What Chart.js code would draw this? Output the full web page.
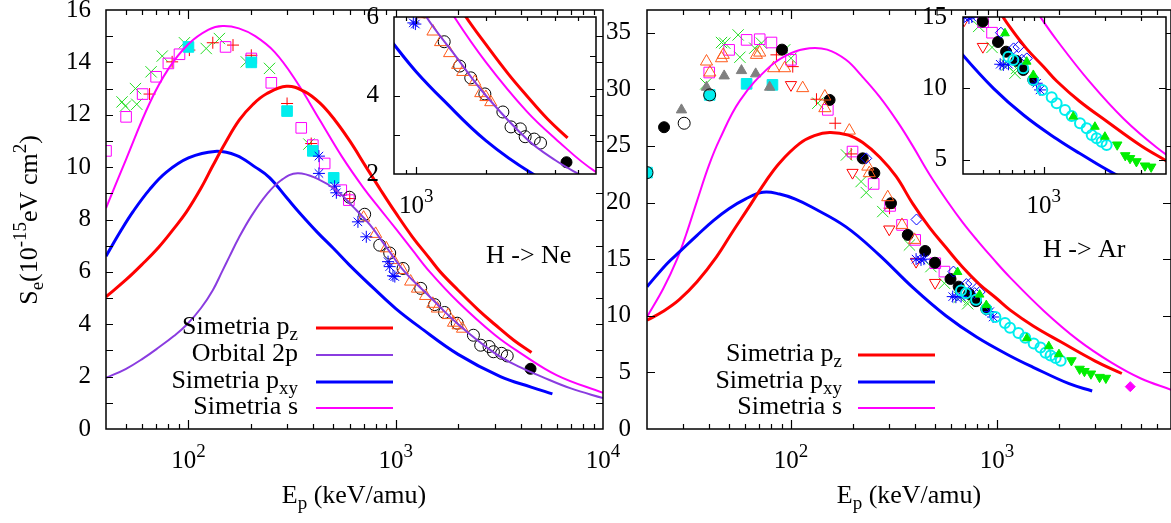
<!DOCTYPE html>
<html>
<head>
<title>Stopping cross sections H -> Ne, H -> Ar</title>
<script src="https://cdn.jsdelivr.net/npm/chart.js@4.4.1/dist/chart.umd.min.js"></script>
<style>
  body { margin: 0; background: #fff; overflow: hidden; }
  #wrap { position: relative; width: 1171px; height: 523px; overflow: hidden; background: #fff; }
  canvas { position: absolute; left: 0; top: 0; }
</style>
</head>
<body>
<div id="wrap">
  <canvas id="ne" width="1180" height="523"></canvas>
  <canvas id="ar" width="1180" height="523"></canvas>
  <canvas id="neInset" width="1180" height="523"></canvas>
  <canvas id="arInset" width="1180" height="523"></canvas>
</div>
<script>
const FONT = '"Liberation Serif", "Times New Roman", serif';

// ---- H -> Ne, theory curves: [E (keV/amu), Se (1e-15 eV cm2)]
const neSimS = [[40,8.43],[50,10.3],[65,12.45],[80,13.75],[100,14.7],[125,15.25],[146,15.39],[175,15.3],[210,15.0],[260,14.4],[330,13.3],[430,11.8],[550,10.4],[700,9.2],[850,8.35],[1000,7.65],[1200,6.85],[1460,6.0],[2000,4.85],[3000,3.6],[4000,2.9],[6000,2.05],[10000,1.38]];
const neSimPz = [[40,5.05],[50,5.7],[60,6.3],[72,6.95],[85,7.65],[98,8.3],[115,9.2],[131,10.05],[150,10.9],[176,11.8],[205,12.4],[238,12.8],[297,13.09],[360,12.9],[430,12.45],[508,11.8],[600,11.0],[720,10.0],[850,9.1],[1000,8.25],[1200,7.35],[1460,6.5],[1640,6.0],[2000,5.3],[2500,4.55],[3000,4.0],[3700,3.4],[4520,2.92]];
const neSimPxy = [[40,6.6],[47,7.55],[54,8.3],[65,9.15],[78,9.8],[100,10.35],[134,10.6],[170,10.45],[210,10.0],[246,9.6],[300,8.8],[344,8.25],[420,7.5],[500,6.9],[600,6.25],[800,5.3],[1000,4.6],[1300,3.9],[2000,2.85],[3200,2.0],[4500,1.6],[5700,1.34]];
const neOrb2p = [[40,1.95],[50,2.3],[60,2.68],[72,3.12],[85,3.55],[98,3.98],[115,4.62],[131,5.3],[145,6.0],[158,6.6],[175,7.3],[200,8.1],[238,8.95],[280,9.5],[336,9.77],[420,9.55],[520,9.1],[620,8.5],[750,7.8],[900,6.95],[1100,6.02],[1460,5.05],[2000,4.0],[3000,2.9],[4000,2.35],[5050,2.0],[7000,1.55],[10000,1.18]];

// ---- H -> Ne, measured points
const neCross = [[47.8,12.49],[49.6,12.33],[55.5,13.0],[56.3,12.4],[66,13.64],[74.7,14.24],[95.6,14.75],[121.8,14.53],[141,14.91],[190,14.02],[246,13.77],[381,10.88]];
const nePlus = [[64.9,12.79],[83.4,14.02],[101,14.47],[131,14.75],[164,14.66],[201,14.27],[299,12.43],[391,10.9],[600,8.8]];
const neSquare = [[40,10.62],[50,11.92],[60.1,12.79],[69.8,13.45],[80,13.96],[90.5,14.31],[151,14.59],[201,14.15],[251,13.22],[350,11.5],[398,10.84],[454,10.14],[546,9.12],[594,8.74]];
const neCyanSq = [[100,14.59],[201,14.0],[299,12.14],[398,10.62],[502,9.59]];
const neStar = [[426,10.42],[426,9.76],[507,9.27],[517,9.02],[657,7.91],[721,7.34],[918,6.39],[935,6.2],[970,5.85],[990,5.82]];
const neTriangle = [[700,8.07],[800,7.45],[900,6.9],[974,6.45],[1076,6.07],[1180,5.63],[1273,5.36],[1393,5.08],[1510,4.78],[1588,4.6],[1790,4.35],[1900,4.06],[2000,3.96],[2100,3.83]];
const neCircle = [[598,8.85],[708,8.2],[837,7.02],[935,6.72],[1085,6.13],[1320,5.37],[1540,4.75],[1720,4.45],[1980,4.04],[2370,3.58],[2570,3.2],[2820,3.15],[2960,2.95],[3240,2.89],[3450,2.79]];
const neDot = [[4470,2.3]];

// ---- H -> Ar, theory curves
const arSimS = [[20,9.9],[24,12.4],[28,15.0],[31,17.2],[35,20.15],[40,23.3],[45,25.55],[56.5,29.0],[78.9,32.0],[100,33.2],[123,33.63],[150,33.5],[185,32.6],[220,31.2],[269,29.35],[330,27.1],[390,25.0],[470,22.5],[580,20.0],[680,18.27],[800,16.68],[955,15.06],[1160,13.37],[1685,10.45],[2480,7.85],[3600,5.86],[5000,4.46],[7000,3.47]];
const arSimPz = [[20,9.6],[24,10.4],[28.6,11.4],[35,13.0],[43.5,15.2],[52,17.4],[61,19.3],[75,21.8],[88,23.5],[110,25.2],[130,25.9],[154,26.18],[190,25.95],[223,25.3],[270,24.0],[324,22.3],[390,19.9],[470,17.8],[567,16.0],[680,14.3],[820,12.8],[1000,11.5],[1160,10.5],[1500,9.1],[2040,7.7],[3000,6.0],[4040,4.9]];
const arSimPxy = [[20,12.57],[25,14.6],[29,15.7],[35,17.1],[42,18.4],[50,19.45],[60,20.3],[73,20.9],[88,20.75],[105,20.3],[126,19.6],[185,17.85],[267,15.4],[390,12.5],[565,10.0],[800,8.1],[1160,6.45],[1500,5.45],[2240,4.0],[2900,3.36]];

// ---- H -> Ar, measured points
const arCross = [[38.6,30.48],[46,34.13],[47.7,34.07],[55.4,34.8],[56.5,32.83],[66.7,33.63],[71.9,34.07],[93.2,33.48],[100,32.74],[135,28.77],[186,24.2],[219,21.85],[232,20.88],[279,19.2],[376,16.25],[478,14.34],[556,12.87],[657,11.64],[721,11.06],[734,11.4]];
const arPlus = [[85,33.04],[102,32.0],[133,29.12],[164,27.0],[196,24.29],[301,19.5]];
const arSquare = [[40.1,31.48],[50.1,33.48],[60.9,34.36],[70.5,34.42],[80.4,34.13],[100,32.6],[151,28.18],[199,24.5],[252,21.64],[303,19.7],[346,18.02],[401,16.7],[502,14.64],[556,13.9]];
const arCyanSq = [[20,22.64],[40.3,29.5],[60.9,30.48],[81.3,30.39]];
const arRing = [[20,22.64],[30.3,27.0],[40.3,29.5]];
const arGrayTri = [[29.4,28.18],[38.9,30.18],[47.4,31.18],[57.5,31.65],[67.4,31.36],[78.8,30.18]];
const arDot = [[24.2,26.65],[90.5,33.5],[154,29.06],[223,23.9],[254,22.6],[306,19.94],[369,17.14],[448,15.72],[500,14.68],[595,13.25],[652,12.57],[733,11.93],[792,11.29],[888,10.59]];
const arTriangle = [[38.9,32.45],[40.4,31.48],[46,32.74],[46.9,33.04],[68,33.04],[70.5,33.24],[82.4,31.86],[93.2,31.86],[114,30.1],[146,29.36],[146,28.33],[192,26.35],[236,23.17],[240,22.59],[295,20.47],[346,18.02],[398,16.7]];
const arInvTri = [[100,30.39],[199,22.64],[300,17.64],[405,14.78],[501,12.92]];
const arDiamond = [[232,23.9],[407,18.5],[615,13.9],[710,12.8],[750,12.9],[780,12.0],[825,12.1]];
const arStar = [[405,15.0],[428,14.93],[442,15.0],[610,11.69],[632,11.64],[670,11.69],[923,10.36],[958,9.89]];
const arCyanRing = [[669,12.22],[708,11.99],[792,11.41],[888,10.59],[983,9.89],[1094,9.37],[1157,8.95],[1272,8.48],[1372,8.06],[1508,7.55],[1627,7.2],[1722,6.73],[1821,6.5],[1928,6.26],[2040,6.03]];
const arGreenTri = [[644,13.86],[824,11.87],[888,10.94],[1397,8.02],[1786,7.31],[2000,6.61]];
const arGreenInv = [[2300,6.05],[2520,5.3],[2660,5.1],[2860,4.88],[3150,4.58],[3380,4.5]];
const arMagDiamond = [[4440,3.74]];

const RED = '#ff0000', BLUE = '#0000ff', MAG = '#ff00ff', PURPLE = '#8a3ce0';
const GREEN = '#22dd22', CYAN = '#00eeee', ORANGE = '#ff5a1a', GRAY = '#808080';

const xy = a => a.map(p => ({x: p[0], y: p[1]}));

function curve(data, color, width) {
  return {data: xy(data), showLine: true, borderColor: color, borderWidth: width,
    pointRadius: 0, tension: 0.4, fill: false};
}
function marks(data, style, color, r, filled, extra) {
  return Object.assign({data: xy(data), pointStyle: style, pointRadius: r,
    borderColor: color, backgroundColor: filled ? color : 'rgba(0,0,0,0)',
    borderWidth: 1, showLine: false}, extra || {});
}

function neSets() {
  return [
    curve(neSimPz, RED, 3), curve(neOrb2p, PURPLE, 2), curve(neSimPxy, BLUE, 3), curve(neSimS, MAG, 2),
    marks(neStar, 'star', BLUE, 6),
    marks(neTriangle, 'triangle', ORANGE, 7),
    marks(neCircle, 'circle', '#000', 6),
    marks(neDot, 'circle', '#000', 5.5, true),
    marks(neCyanSq, 'rect', CYAN, 7.5, true),
    marks(neSquare, 'rect', MAG, 7.5),
    marks(nePlus, 'cross', RED, 6),
    marks(neCross, 'crossRot', GREEN, 8)
  ];
}
function arSets() {
  return [
    curve(arSimPz, RED, 3), curve(arSimPxy, BLUE, 3), curve(arSimS, MAG, 2),
    marks(arMagDiamond, 'rectRot', MAG, 5, true),
    marks(arGreenInv, 'triangle', '#00ee00', 5.5, true, {rotation: 180}),
    marks(arGreenTri, 'triangle', '#00ee00', 5, true),
    marks(arCyanRing, 'circle', CYAN, 5, false, {borderWidth: 2}),
    marks(arStar, 'star', BLUE, 6),
    marks(arDiamond, 'rectRot', BLUE, 5.5),
    marks(arInvTri, 'triangle', RED, 6.5, false, {rotation: 180}),
    marks(arTriangle, 'triangle', ORANGE, 7),
    marks(arDot, 'circle', '#000', 5.5, true),
    marks(arRing, 'circle', '#000', 6),
    marks(arGrayTri, 'triangle', GRAY, 6, true),
    marks(arCyanSq, 'rect', CYAN, 7.5, true),
    marks(arSquare, 'rect', MAG, 7.5),
    marks(arPlus, 'cross', RED, 6),
    marks(arCross, 'crossRot', GREEN, 8)
  ];
}

// text with sub (1) / superscript (2) parts
function drawRich(ctx, parts, x, y, align, size, baseline) {
  const fontOf = k => (k ? Math.round(size * 0.74) : size) + 'px ' + FONT;
  ctx.textAlign = 'left';
  ctx.textBaseline = baseline || 'alphabetic';
  let w = 0;
  parts.forEach(([t, k]) => { ctx.font = fontOf(k); w += ctx.measureText(t).width; });
  let cx = align === 'center' ? x - w / 2 : align === 'right' ? x - w : x;
  parts.forEach(([t, k]) => {
    ctx.font = fontOf(k);
    const dy = k === 1 ? size * 0.24 : k === 2 ? -size * 0.44 : 0;
    ctx.fillText(t, cx, y + dy);
    cx += ctx.measureText(t).width;
  });
}

function logTicks(min, max, major, minor) {
  const t = [];
  for (let e = Math.floor(Math.log10(min)); e <= Math.ceil(Math.log10(max)); e++) {
    for (let m = 1; m < 10; m++) {
      const v = m * Math.pow(10, e);
      if (v > min * 1.001 && v < max * 0.999) t.push([v, m === 1 ? major : minor]);
    }
  }
  return t;
}
function linTicks(min, max, step, len) {
  const t = [];
  for (let v = min + step; v < max - 1e-9; v += step) t.push([v, len]);
  return t;
}

function makeFrame(c) {
  return {
    id: 'frame',
    beforeDatasetsDraw(chart) {
      if (!c.fill) return;
      const a = chart.chartArea, ctx = chart.ctx;
      ctx.save();
      ctx.fillStyle = '#fff';
      ctx.fillRect(a.left, a.top, a.right - a.left, a.bottom - a.top);
      ctx.restore();
    },
    afterDraw(chart) {
      const {ctx, chartArea: a} = chart;
      const sx = chart.scales.x, sy = chart.scales.y;
      ctx.save();
      ctx.strokeStyle = '#000';
      ctx.lineWidth = 1.2;
      ctx.beginPath();
      c.xTicks.forEach(([v, len]) => {
        const p = Math.round(sx.getPixelForValue(v)) + 0.5;
        ctx.moveTo(p, a.bottom); ctx.lineTo(p, a.bottom - len);
        ctx.moveTo(p, a.top); ctx.lineTo(p, a.top + len);
      });
      c.yTicks.forEach(([v, len]) => {
        const p = Math.round(sy.getPixelForValue(v)) + 0.5;
        ctx.moveTo(a.left, p); ctx.lineTo(a.left + len, p);
        ctx.moveTo(a.right, p); ctx.lineTo(a.right - len, p);
      });
      ctx.stroke();
      ctx.lineWidth = 1.5;
      ctx.strokeRect(a.left, a.top, a.right - a.left, a.bottom - a.top);

      ctx.fillStyle = '#000';
      c.xLabels.forEach(([v, exp]) =>
        drawRich(ctx, [['10', 0], [exp, 2]], sx.getPixelForValue(v), a.bottom + 39, 'center', 25));
      c.yLabels.forEach(v =>
        drawRich(ctx, [[String(v), 0]], a.left - c.yGap, sy.getPixelForValue(v), 'right', 25, 'middle'));
      (c.texts || []).forEach(t => {
        if (t.rotate) {
          ctx.save();
          ctx.translate(t.x, t.y);
          ctx.rotate(-Math.PI / 2);
          drawRich(ctx, t.parts, 0, 0, t.align, t.size);
          ctx.restore();
        } else {
          drawRich(ctx, t.parts, t.x, t.y, t.align, t.size);
        }
      });
      (c.legend || []).forEach(r => {
        drawRich(ctx, r.parts, c.legendText, r.y + 6, 'right', 26);
        ctx.beginPath();
        ctx.strokeStyle = r.color;
        ctx.lineWidth = r.width;
        ctx.moveTo(c.legendLine[0], r.y);
        ctx.lineTo(c.legendLine[1], r.y);
        ctx.stroke();
      });
      ctx.restore();
    }
  };
}

function makeChart(id, area, xr, yr, datasets, frame) {
  const W = 1180, H = 523;
  return new Chart(document.getElementById(id), {
    type: 'scatter',
    data: {datasets},
    options: {
      responsive: false,
      animation: false,
      events: [],
      layout: {padding: {left: area[0], top: area[1], right: W - area[2], bottom: H - area[3]}},
      scales: {
        x: {type: 'logarithmic', min: xr[0], max: xr[1], display: false},
        y: {type: 'linear', min: yr[0], max: yr[1], display: false}
      },
      plugins: {legend: {display: false}, tooltip: {enabled: false}}
    },
    plugins: [makeFrame(frame)]
  });
}

const Ep = [['E', 0], ['p', 1], [' (keV/amu)', 0]];

// left panel: H -> Ne
makeChart('ne', [106, 10, 603, 429], [40, 10000], [0, 16], neSets(), {
  xTicks: logTicks(40, 10000, 9, 5),
  yTicks: linTicks(0, 16, 1, 7),
  xLabels: [[100, '2'], [1000, '3'], [10000, '4']],
  yLabels: [0, 2, 4, 6, 8, 10, 12, 14, 16],
  yGap: 15,
  texts: [
    {parts: [['S', 0], ['e', 1], ['(10', 0], ['-15', 2], ['eV cm', 0], ['2', 2], [')', 0]], x: 37, y: 220, align: 'center', size: 26, rotate: true},
    {parts: Ep, x: 354, y: 503, align: 'center', size: 26},
    {parts: [['H -> Ne', 0]], x: 486, y: 263, align: 'left', size: 26}
  ],
  legendText: 298,
  legendLine: [316, 393],
  legend: [
    {parts: [['Simetria p', 0], ['z', 1]], y: 328, color: RED, width: 3},
    {parts: [['Orbital 2p', 0]], y: 355, color: PURPLE, width: 2},
    {parts: [['Simetria p', 0], ['xy', 1]], y: 382, color: BLUE, width: 3},
    {parts: [['Simetria s', 0]], y: 408, color: MAG, width: 2}
  ]
});

// right panel: H -> Ar
makeChart('ar', [647, 10, 1172, 429], [20, 7000], [0, 37], arSets(), {
  xTicks: logTicks(20, 7000, 9, 5),
  yTicks: linTicks(0, 37, 5, 8),
  xLabels: [[100, '2'], [1000, '3']],
  yLabels: [0, 5, 10, 15, 20, 25, 30, 35],
  yGap: 16,
  texts: [
    {parts: Ep, x: 909, y: 503, align: 'center', size: 26},
    {parts: [['H -> Ar', 0]], x: 1043, y: 257, align: 'left', size: 26}
  ],
  legendText: 842,
  legendLine: [858, 935],
  legend: [
    {parts: [['Simetria p', 0], ['z', 1]], y: 355, color: RED, width: 3},
    {parts: [['Simetria p', 0], ['xy', 1]], y: 382, color: BLUE, width: 3},
    {parts: [['Simetria s', 0]], y: 408, color: MAG, width: 2}
  ]
});

// insets
makeChart('neInset', [394, 17, 596, 174], [800, 6000], [2, 6], neSets(), {
  fill: true,
  xTicks: logTicks(800, 6000, 7, 4),
  yTicks: linTicks(2, 6, 1, 6),
  xLabels: [[1000, '3']],
  yLabels: [2, 4, 6],
  yGap: 15
});
makeChart('arInset', [963, 17, 1166, 174], [400, 4000], [4, 15], arSets(), {
  fill: true,
  xTicks: logTicks(400, 4000, 7, 4),
  yTicks: [[5, 7], [10, 7]],
  xLabels: [[1000, '3']],
  yLabels: [5, 10, 15],
  yGap: 16
});
</script>
</body>
</html>
